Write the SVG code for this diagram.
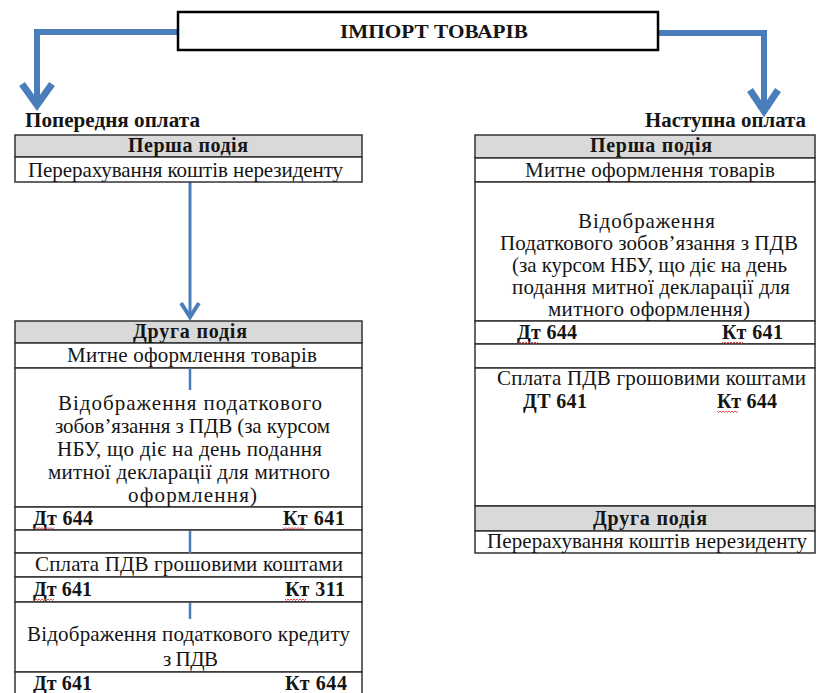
<svg xmlns="http://www.w3.org/2000/svg" xmlns:xlink="http://www.w3.org/1999/xlink" width="818" height="693" viewBox="0 0 818 693">
<style>
.t{font-family:"Liberation Serif","Times New Roman",serif;font-size:21px;fill:#151515}
.b{font-weight:bold;font-size:20px}
.ttl{font-size:19px}
.lbl{font-size:20px}
.cell{fill:#fff;stroke:#333;stroke-width:1.5}
.hdr{fill:#d9d9d9;stroke:#333;stroke-width:1.5}
.box{fill:#fff;stroke:#000;stroke-width:2.5}
.blue{fill:none;stroke:#4a7ebb;stroke-linejoin:miter}
.sq{fill:none;stroke:#e03030;stroke-width:0.9}
</style>
<defs>
<path id="sq" class="sq" d="M0 0 l1.5 1.5 l1.5 -1.5 l1.5 1.5 l1.5 -1.5 l1.5 1.5 l1.5 -1.5 l1.5 1.5 l1.5 -1.5 l1.5 1.5 l1.5 -1.5 l1.5 1.5 l1.5 -1.5 l1.5 1.5 l1.5 -1.5"/>
</defs>
<rect width="818" height="693" fill="#fff"/>

<g id="connectors">
  <path class="blue" stroke-width="6" d="M178 32 H37 V102"/>
  <polyline class="blue" stroke-width="7" points="22,84 37,105 52,84"/>
  <path class="blue" stroke-width="6" d="M658 33 H764 V108"/>
  <polyline class="blue" stroke-width="7" points="750,90 764,111 778,90"/>
  <path class="blue" stroke-width="3" d="M190 182 V316"/>
  <polyline class="blue" stroke-width="4" points="181,303 190,317 199,303"/>
  <path class="blue" stroke-width="2.5" d="M624 183 V207"/>
  <path class="blue" stroke-width="3" d="M636 340 V370"/>
  <path class="blue" stroke-width="2.5" d="M641 407 V503"/>
  <polyline class="blue" stroke-width="3" points="632,491 641,504 650,491"/>
</g>

<g id="title">
  <rect class="box" x="178" y="12" width="480" height="38"/>
  <text class="t b ttl" x="340" y="38" textLength="188" lengthAdjust="spacingAndGlyphs">ІМПОРТ ТОВАРІВ</text>
</g>

<g id="label-prepay">
  <text class="t b lbl" x="25" y="127" textLength="175" lengthAdjust="spacingAndGlyphs">Попередня оплата</text>
</g>
<g id="label-postpay">
  <text class="t b lbl" x="645" y="127" textLength="161" lengthAdjust="spacingAndGlyphs">Наступна оплата</text>
</g>

<g id="left-first">
  <rect class="hdr" x="15" y="135" width="347" height="22"/>
  <rect class="cell" x="15" y="157" width="347" height="25"/>
  <text class="t b" x="128" y="152" textLength="120">Перша подія</text>
  <text class="t" x="28" y="177" textLength="315">Перерахування коштів нерезиденту</text>
</g>

<g id="left-second">
  <rect class="hdr" x="15" y="321" width="347" height="22"/>
  <rect class="cell" x="15" y="343" width="347" height="25"/>
  <rect class="cell" x="15" y="368" width="347" height="139"/>
  <rect class="cell" x="15" y="507" width="347" height="23"/>
  <rect class="cell" x="15" y="530" width="347" height="23"/>
  <rect class="cell" x="15" y="553" width="347" height="24"/>
  <rect class="cell" x="15" y="577" width="347" height="25"/>
  <rect class="cell" x="15" y="602" width="347" height="70"/>
  <rect class="cell" x="15" y="672" width="347" height="30"/>
  <text class="t b" x="133" y="338" textLength="114">Друга подія</text>
  <text class="t" x="67" y="362" textLength="250">Митне оформлення товарів</text>
  <text class="t" x="58" y="410" textLength="264">Відображення податкового</text>
  <text class="t" x="55" y="433" textLength="275">зобов’язання з ПДВ (за курсом</text>
  <text class="t" x="57" y="456" textLength="265">НБУ, що діє на день подання</text>
  <text class="t" x="48" y="479" textLength="282">митної декларації для митного</text>
  <text class="t" x="128" y="502" textLength="129">оформлення)</text>
  <text class="t b" x="33" y="525" textLength="60">Дт 644</text>
  <text class="t b" x="283" y="525" textLength="62">Кт 641</text>
  <text class="t" x="35" y="571" textLength="308">Сплата ПДВ грошовими коштами</text>
  <text class="t b" x="33" y="596" textLength="59">Дт 641</text>
  <text class="t b" x="285" y="596" textLength="60">Кт 311</text>
  <text class="t" x="27" y="641" textLength="323">Відображення податкового кредиту</text>
  <text class="t" x="163" y="666" textLength="55">з ПДВ</text>
  <text class="t b" x="33" y="690" textLength="59">Дт 641</text>
  <text class="t b" x="285" y="690" textLength="62">Кт 644</text>
  <use xlink:href="#sq" x="33" y="527.5"/>
  <use xlink:href="#sq" x="283" y="527.5"/>
  <use xlink:href="#sq" x="33" y="599"/>
  <use xlink:href="#sq" x="285" y="599"/>
</g>
<g id="connectors-inner">
  <path class="blue" stroke-width="2.5" d="M190 368 V390"/>
  <path class="blue" stroke-width="2.5" d="M190 531 V553"/>
  <path class="blue" stroke-width="2.5" d="M190 603 V619"/>
</g>

<g id="right-table">
  <rect class="hdr" x="475" y="135" width="340" height="23"/>
  <rect class="cell" x="475" y="158" width="340" height="24"/>
  <rect class="cell" x="475" y="182" width="340" height="139"/>
  <rect class="cell" x="475" y="321" width="340" height="23"/>
  <rect class="cell" x="475" y="344" width="340" height="24"/>
  <rect class="cell" x="475" y="368" width="340" height="138"/>
  <rect class="hdr" x="475" y="506" width="340" height="25"/>
  <rect class="cell" x="475" y="531" width="340" height="22"/>
  <text class="t b" x="590" y="152" textLength="122">Перша подія</text>
  <text class="t" x="525" y="177" textLength="250">Митне оформлення товарів</text>
  <text class="t" x="578" y="228" textLength="137">Відображення</text>
  <text class="t" x="500" y="250" textLength="298">Податкового зобов’язання з ПДВ</text>
  <text class="t" x="512" y="272" textLength="275">(за курсом НБУ, що діє на день</text>
  <text class="t" x="512" y="294" textLength="278">подання митної декларації для</text>
  <text class="t" x="548" y="316" textLength="202">митного оформлення)</text>
  <text class="t b" x="517" y="339" textLength="60">Дт 644</text>
  <text class="t b" x="722" y="339" textLength="61">Кт 641</text>
  <text class="t" x="497" y="385" textLength="309">Сплата ПДВ грошовими коштами</text>
  <text class="t b" x="523" y="408" textLength="64">ДТ 641</text>
  <text class="t b" x="717" y="408" textLength="60">Кт 644</text>
  <text class="t b" x="593" y="525" textLength="114">Друга подія</text>
  <text class="t" x="487" y="548" textLength="320">Перерахування коштів нерезиденту</text>
  <use xlink:href="#sq" x="517" y="342"/>
  <use xlink:href="#sq" x="722" y="342"/>
  <use xlink:href="#sq" x="717" y="411"/>
</g>
</svg>
